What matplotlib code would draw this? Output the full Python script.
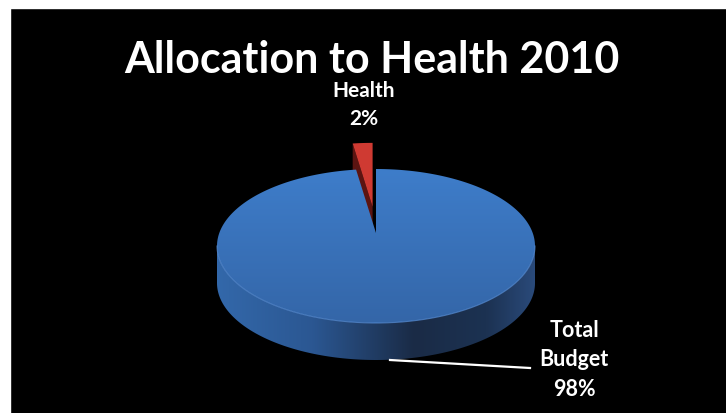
import numpy as np
import matplotlib
matplotlib.use('Agg')
import matplotlib.pyplot as plt
from matplotlib.patches import Polygon, Rectangle
from matplotlib.colors import LinearSegmentedColormap

title = 'Allocation to Health 2010'
labels = ['Health', 'Total\nBudget']
shares = [2, 98]          # percent of the budget
explode = [0.34, 0.0]

plt.rcParams['font.family'] = ['Lato', 'DejaVu Sans']

W, H = 726, 413
fig = plt.figure(figsize=(W / 100, H / 100), dpi=100)
fig.patch.set_facecolor('black')
ax = fig.add_axes([0, 0, 1, 1])
ax.set_facecolor('black')
ax.set_xlim(0, W)
ax.set_ylim(H, 0)
ax.axis('off')

# white page margin on the left and top of the black slide
ax.add_patch(Rectangle((-5, -5), 15, H + 10, color='white', zorder=0))
ax.add_patch(Rectangle((-5, -5), W + 10, 13, color='white', zorder=0))

# pie geometry (pixels): rim ellipse, apex of the wedges, thickness
cx, cy, a, b = 376, 246, 159, 77
apex_y = 233
depth = 37


def rim(theta, dx=0, dy=0):
    t = np.radians(theta)
    return np.column_stack([cx + a * np.cos(t) + dx, cy - b * np.sin(t) + dy])


# wedge angles, starting at 12 o'clock and running counter-clockwise
angles = 90 + np.cumsum([0] + shares) * 360 / sum(shares)
start_h, end_h = angles[0], angles[1]
mid_h = (start_h + end_h) / 2
ex = explode[0] * a * np.cos(np.radians(mid_h))
ey = -explode[0] * b * np.sin(np.radians(mid_h))

# --- Health slice (pulled out) ---
tip = np.array([[cx + ex, apex_y + ey]])
edge = rim(end_h, ex, ey)
cut_face = np.vstack([edge, tip, tip + [0, depth], edge + [0, depth]])
ax.add_patch(Polygon(cut_face, closed=True, fc='#5c1411', ec='none', zorder=2))
top_h = np.vstack([tip, rim(np.linspace(start_h, end_h, 20), ex, ey)])
ax.add_patch(Polygon(top_h, closed=True, fc='#cf3a32', ec='none', zorder=3))

# --- Total budget slice ---
front = rim(np.linspace(180, 360, 200))
side = np.vstack([front, front[::-1] + [0, depth]])
side_patch = Polygon(side, closed=True, fc='none', ec='none', zorder=4)
ax.add_patch(side_patch)
side_cmap = LinearSegmentedColormap.from_list(
    'side', [(0, '#3368aa'), (0.3, '#2b5792'), (0.62, '#1a2b46'),
             (0.85, '#1c3252'), (1, '#2a4a7a')])
grad = np.linspace(0, 1, 256).reshape(1, -1)
im = ax.imshow(grad, cmap=side_cmap, aspect='auto', zorder=4,
               extent=(cx - a, cx + a, cy + b + depth, cy))
im.set_clip_path(side_patch)

top_b = np.vstack([[cx, apex_y], rim(np.linspace(end_h, 450, 400))])
top_patch = Polygon(top_b, closed=True, fc='none', ec='none', zorder=5)
ax.add_patch(top_patch)
top_cmap = LinearSegmentedColormap.from_list('top', ['#3e7dca', '#3466a8'])
vgrad = np.linspace(0, 1, 256).reshape(-1, 1)
im2 = ax.imshow(vgrad, cmap=top_cmap, aspect='auto', zorder=5,
                extent=(cx - a, cx + a, cy + b, cy - b))
im2.set_clip_path(top_patch)
ax.plot(front[:, 0], front[:, 1], color='#5a90d8', lw=0.8, alpha=0.7, zorder=6)

ax.set_xlim(0, W)
ax.set_ylim(H, 0)

# --- text ---
ax.text(372, 73, title, color='white', fontsize=31, fontweight='bold',
        ha='center', va='baseline', zorder=10)
ax.text(364, 105, '{}\n{}%'.format(labels[0], shares[0]), color='white',
        fontsize=15, fontweight='bold', ha='center', va='center',
        linespacing=1.5, zorder=10)
ax.text(574, 360, '{}\n{}%'.format(labels[1], shares[1]), color='white',
        fontsize=15.5, fontweight='bold', ha='center', va='center',
        linespacing=1.5, zorder=10)
ax.plot([390, 530], [360, 368], color='white', lw=1.6, zorder=10)

fig.savefig('out.png', dpi=100, facecolor=fig.get_facecolor())
